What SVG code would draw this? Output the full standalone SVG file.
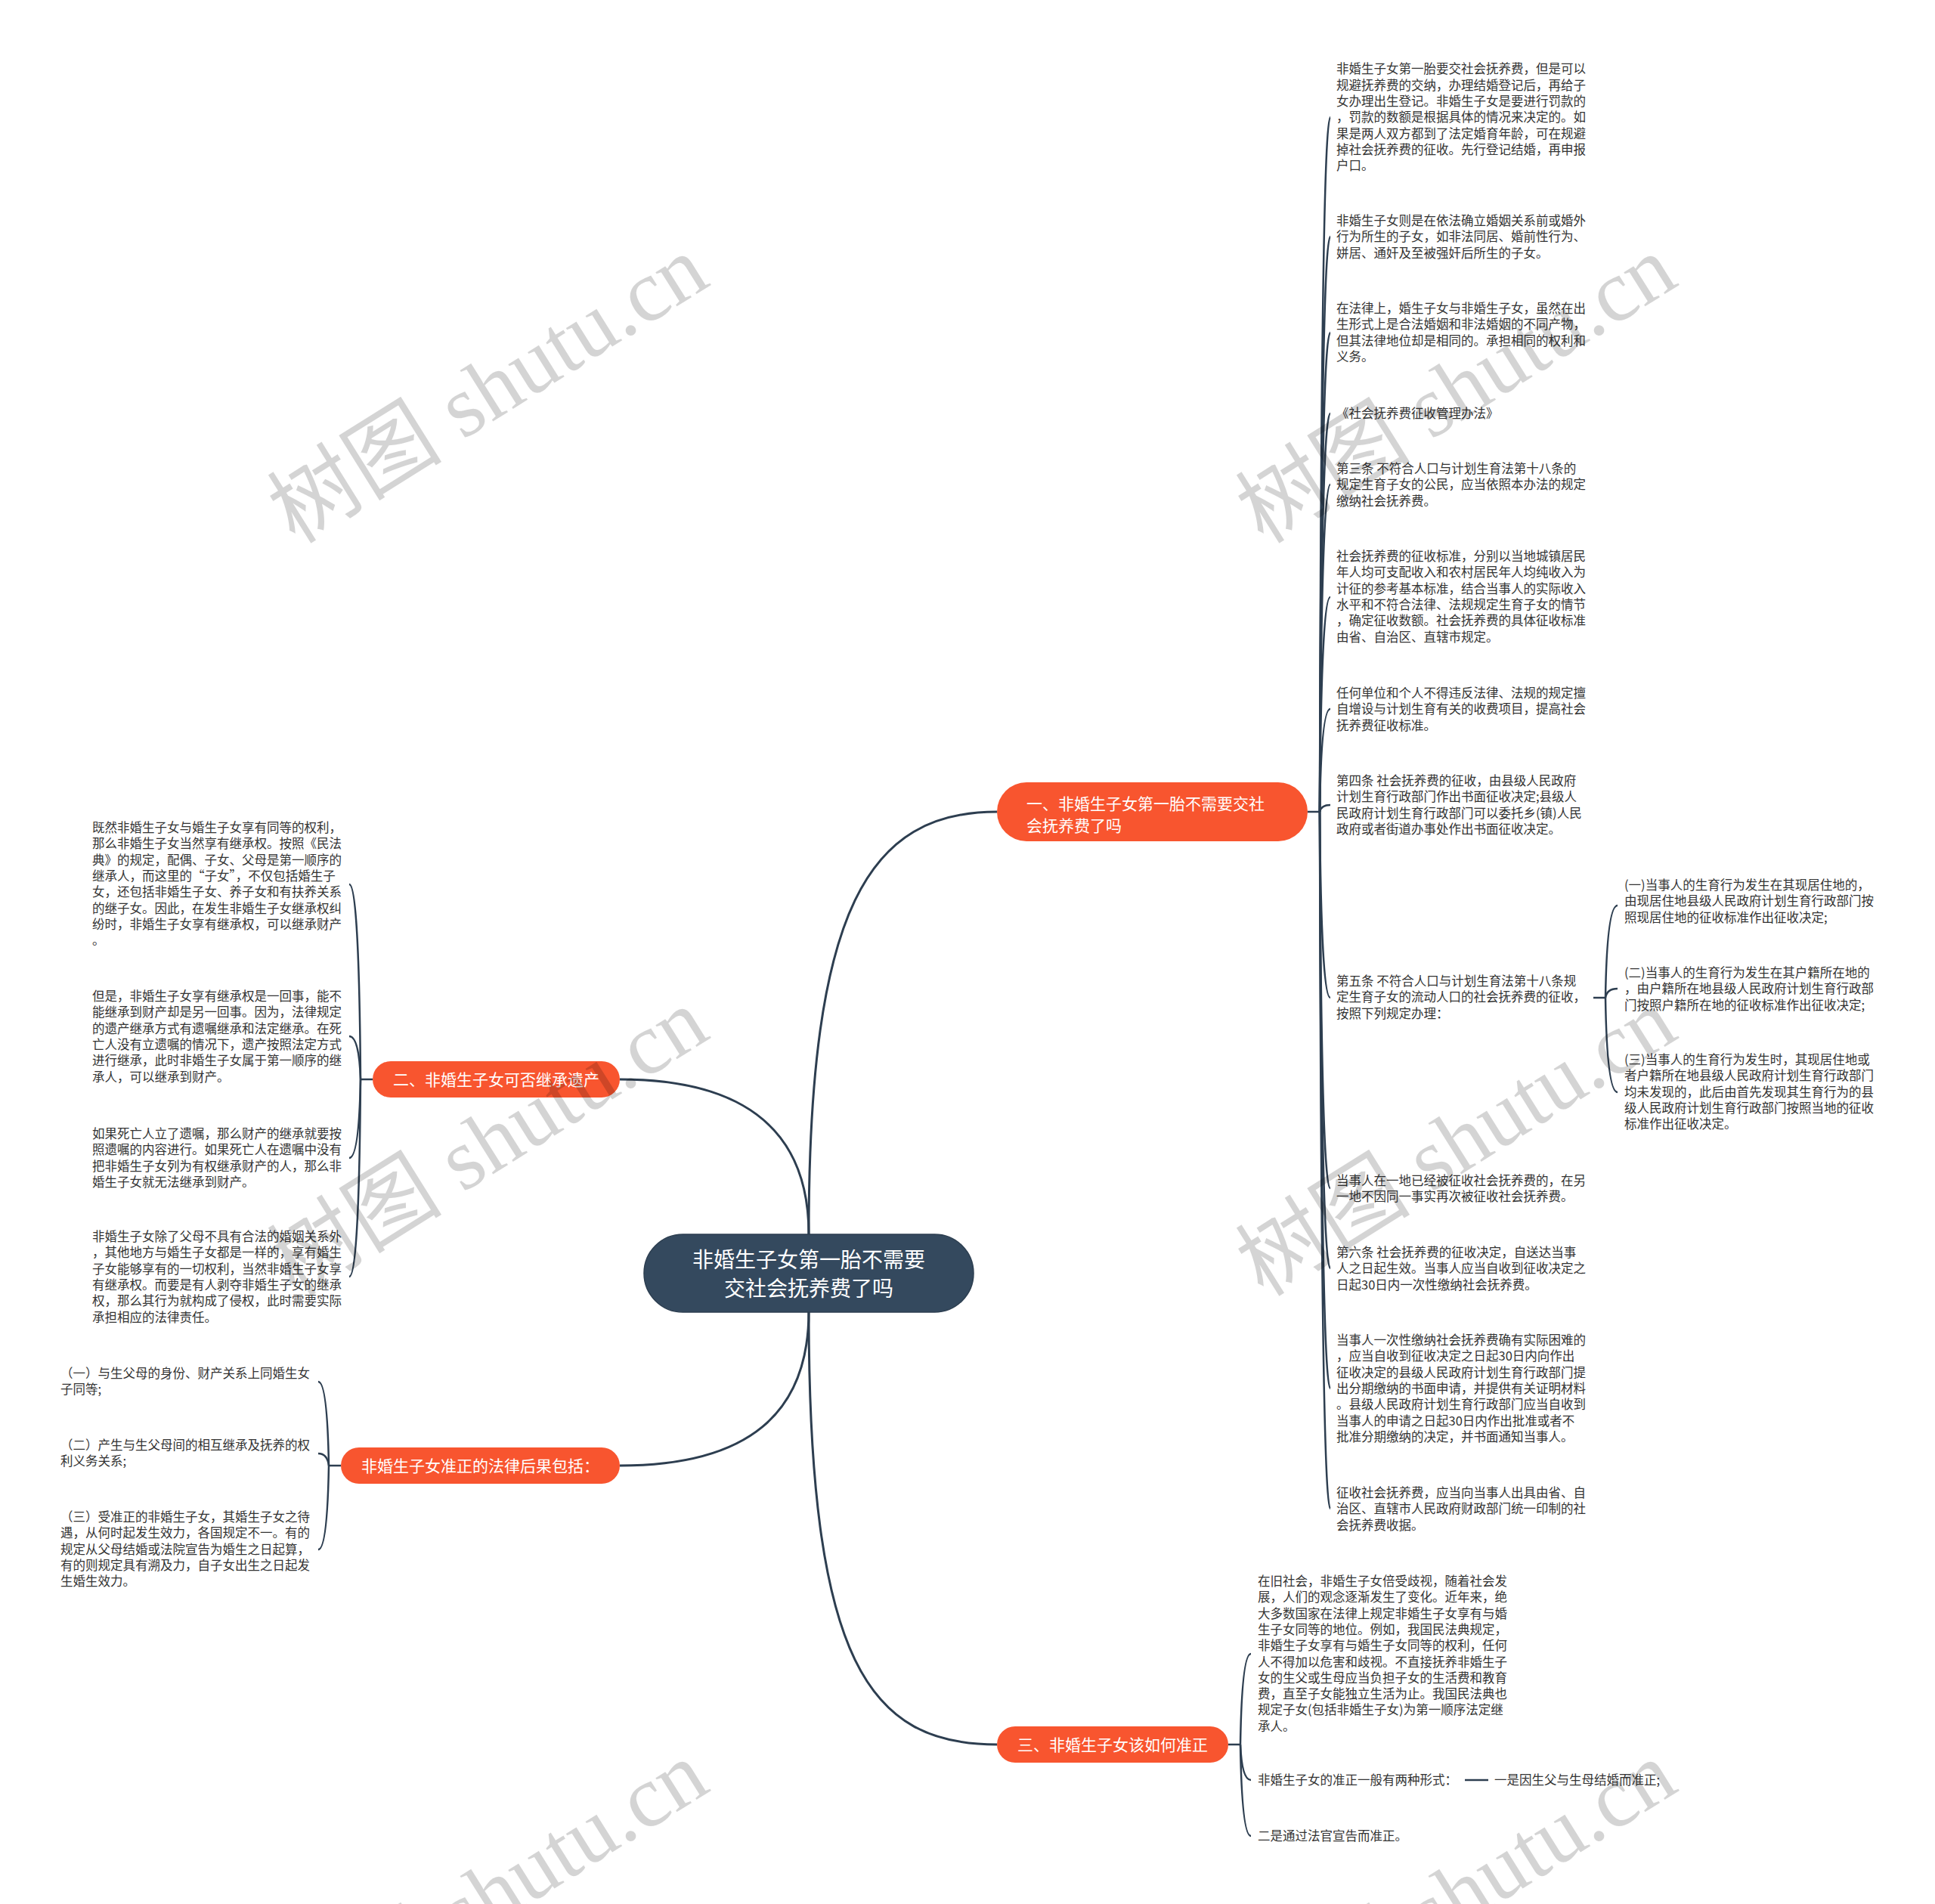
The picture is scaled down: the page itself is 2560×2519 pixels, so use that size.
<svg xmlns="http://www.w3.org/2000/svg" width="2560" height="2519" viewBox="0 0 2560 2519">
<style>
.leaf{font-family:"Noto Sans CJK SC","Noto Sans",sans-serif;font-size:16.5px;fill:#333333;}
.br{font-family:"Noto Sans CJK SC","Noto Sans",sans-serif;font-size:21px;fill:#ffffff;}
.ctr{font-family:"Noto Sans CJK SC","Noto Sans",sans-serif;font-size:28px;fill:#ffffff;}
.main{fill:none;stroke:#2d3e50;stroke-width:3;}
.sub{fill:none;stroke:#2d3e50;stroke-width:2.5;}
.brnode{fill:#f8552f;}
.wm{font-family:"Liberation Serif","Noto Sans CJK SC",serif;font-size:116px;fill:#000000;fill-opacity:0.17;}
</style>
<rect x="0" y="0" width="2560" height="2519" fill="#ffffff"/>
<g id="connectors">
<path class="main" d="M1070,1633 C1070,1200 1150,1074 1319,1074"/>
<path class="main" d="M820,1428 C990,1428 1070,1500 1070,1633"/>
<path class="main" d="M820,1939 C990,1939 1070,1870 1070,1735"/>
<path class="main" d="M1070,1735 C1070,2200 1150,2308 1319,2308"/>
<path class="sub" d="M1730,1074 L1746,1074"/>
<path class="sub" d="M1746,1074 Q1748,155 1760,155"/>
<path class="sub" d="M1746,1074 Q1748,313 1760,313"/>
<path class="sub" d="M1746,1074 Q1748,440 1760,440"/>
<path class="sub" d="M1746,1074 Q1748,547 1760,547"/>
<path class="sub" d="M1746,1074 Q1748,641 1760,641"/>
<path class="sub" d="M1746,1074 Q1748,790 1760,790"/>
<path class="sub" d="M1746,1074 Q1748,938 1760,938"/>
<path class="sub" d="M1746,1074 Q1748,1065 1760,1065"/>
<path class="sub" d="M1746,1074 Q1748,1320 1760,1320"/>
<path class="sub" d="M1746,1074 Q1748,1572 1760,1572"/>
<path class="sub" d="M1746,1074 Q1748,1678 1760,1678"/>
<path class="sub" d="M1746,1074 Q1748,1837 1760,1837"/>
<path class="sub" d="M1746,1074 Q1748,1996 1760,1996"/>
<path class="sub" d="M2108,1320 L2124,1320"/>
<path class="sub" d="M2124,1320 Q2126,1198 2140,1198"/>
<path class="sub" d="M2124,1320 Q2126,1308 2140,1308"/>
<path class="sub" d="M2124,1320 Q2126,1445 2140,1445"/>
<path class="sub" d="M493,1428 L477,1428"/>
<path class="sub" d="M477,1428 Q475,1170 462,1170"/>
<path class="sub" d="M477,1428 Q475,1371 462,1371"/>
<path class="sub" d="M477,1428 Q475,1532 462,1532"/>
<path class="sub" d="M477,1428 Q475,1689 462,1689"/>
<path class="sub" d="M451,1939 L435,1939"/>
<path class="sub" d="M435,1939 Q433,1828 421,1828"/>
<path class="sub" d="M435,1939 Q433,1923 421,1923"/>
<path class="sub" d="M435,1939 Q433,2050 421,2050"/>
<path class="sub" d="M1625,2308 L1641,2308"/>
<path class="sub" d="M1641,2308 Q1643,2188 1655,2188"/>
<path class="sub" d="M1641,2308 Q1643,2355 1655,2355"/>
<path class="sub" d="M1641,2308 Q1643,2429 1655,2429"/>
<path class="sub" d="M1938,2355 L1969,2355"/>
</g>
<g id="center">
<rect x="852" y="1633" width="436" height="103" rx="51.5" fill="#34495e" stroke="#2c3e50" stroke-width="1.5"/>
<text class="ctr" text-anchor="middle"><tspan x="1070" y="1677">非婚生子女第一胎不需要</tspan><tspan x="1070" y="1715">交社会抚养费了吗</tspan></text>
</g>
<g id="branch1">
<rect class="brnode" x="1319" y="1035" width="411" height="78" rx="39"/>
<text class="br"><tspan x="1358" y="1070.5">一、非婚生子女第一胎不需要交社</tspan><tspan x="1358" y="1099.5">会抚养费了吗</tspan></text>
</g>
<g id="branch2">
<rect class="brnode" x="493" y="1404" width="327" height="48" rx="24"/>
<text class="br" x="656.5" y="1435.5" text-anchor="middle">二、非婚生子女可否继承遗产</text>
</g>
<g id="branch3">
<rect class="brnode" x="451" y="1915" width="369" height="48" rx="24"/>
<text class="br" x="635.5" y="1946.5" text-anchor="middle">非婚生子女准正的法律后果包括：</text>
</g>
<g id="branch4">
<rect class="brnode" x="1319" y="2284" width="306" height="48" rx="24"/>
<text class="br" x="1472" y="2315.5" text-anchor="middle">三、非婚生子女该如何准正</text>
</g>
<g id="leaf1-1"><text class="leaf"><tspan x="1768" y="97.4">非婚生子女第一胎要交社会抚养费，但是可以</tspan><tspan x="1768" y="118.7">规避抚养费的交纳，办理结婚登记后，再给子</tspan><tspan x="1768" y="140">女办理出生登记。非婚生子女是要进行罚款的</tspan><tspan x="1768" y="161.3">，罚款的数额是根据具体的情况来决定的。如</tspan><tspan x="1768" y="182.6">果是两人双方都到了法定婚育年龄，可在规避</tspan><tspan x="1768" y="203.9">掉社会抚养费的征收。先行登记结婚，再申报</tspan><tspan x="1768" y="225.2">户口。</tspan></text></g>
<g id="leaf1-2"><text class="leaf"><tspan x="1768" y="298">非婚生子女则是在依法确立婚姻关系前或婚外</tspan><tspan x="1768" y="319.3">行为所生的子女，如非法同居、婚前性行为、</tspan><tspan x="1768" y="340.6">姘居、通奸及至被强奸后所生的子女。</tspan></text></g>
<g id="leaf1-3"><text class="leaf"><tspan x="1768" y="414">在法律上，婚生子女与非婚生子女，虽然在出</tspan><tspan x="1768" y="435.3">生形式上是合法婚姻和非法婚姻的不同产物，</tspan><tspan x="1768" y="456.6">但其法律地位却是相同的。承担相同的权利和</tspan><tspan x="1768" y="477.9">义务。</tspan></text></g>
<g id="leaf1-4"><text class="leaf" x="1768" y="553">《社会抚养费征收管理办法》</text></g>
<g id="leaf1-5"><text class="leaf"><tspan x="1768" y="626">第三条 不符合人口与计划生育法第十八条的</tspan><tspan x="1768" y="647.3">规定生育子女的公民，应当依照本办法的规定</tspan><tspan x="1768" y="668.6">缴纳社会抚养费。</tspan></text></g>
<g id="leaf1-6"><text class="leaf"><tspan x="1768" y="742">社会抚养费的征收标准，分别以当地城镇居民</tspan><tspan x="1768" y="763.3">年人均可支配收入和农村居民年人均纯收入为</tspan><tspan x="1768" y="784.6">计征的参考基本标准，结合当事人的实际收入</tspan><tspan x="1768" y="805.9">水平和不符合法律、法规规定生育子女的情节</tspan><tspan x="1768" y="827.2">，确定征收数额。社会抚养费的具体征收标准</tspan><tspan x="1768" y="848.5">由省、自治区、直辖市规定。</tspan></text></g>
<g id="leaf1-7"><text class="leaf"><tspan x="1768" y="923">任何单位和个人不得违反法律、法规的规定擅</tspan><tspan x="1768" y="944.3">自增设与计划生育有关的收费项目，提高社会</tspan><tspan x="1768" y="965.6">抚养费征收标准。</tspan></text></g>
<g id="leaf1-8"><text class="leaf"><tspan x="1768" y="1039">第四条 社会抚养费的征收，由县级人民政府</tspan><tspan x="1768" y="1060.3">计划生育行政部门作出书面征收决定;县级人</tspan><tspan x="1768" y="1081.6">民政府计划生育行政部门可以委托乡(镇)人民</tspan><tspan x="1768" y="1102.9">政府或者街道办事处作出书面征收决定。</tspan></text></g>
<g id="leaf1-9"><text class="leaf"><tspan x="1768" y="1304">第五条 不符合人口与计划生育法第十八条规</tspan><tspan x="1768" y="1325.3">定生育子女的流动人口的社会抚养费的征收，</tspan><tspan x="1768" y="1346.6">按照下列规定办理：</tspan></text></g>
<g id="leaf1-9-1"><text class="leaf"><tspan x="2149" y="1177">(一)当事人的生育行为发生在其现居住地的，</tspan><tspan x="2149" y="1198.3">由现居住地县级人民政府计划生育行政部门按</tspan><tspan x="2149" y="1219.6">照现居住地的征收标准作出征收决定;</tspan></text></g>
<g id="leaf1-9-2"><text class="leaf"><tspan x="2149" y="1293">(二)当事人的生育行为发生在其户籍所在地的</tspan><tspan x="2149" y="1314.3">，由户籍所在地县级人民政府计划生育行政部</tspan><tspan x="2149" y="1335.6">门按照户籍所在地的征收标准作出征收决定;</tspan></text></g>
<g id="leaf1-9-3"><text class="leaf"><tspan x="2149" y="1408">(三)当事人的生育行为发生时，其现居住地或</tspan><tspan x="2149" y="1429.3">者户籍所在地县级人民政府计划生育行政部门</tspan><tspan x="2149" y="1450.6">均未发现的，此后由首先发现其生育行为的县</tspan><tspan x="2149" y="1471.9">级人民政府计划生育行政部门按照当地的征收</tspan><tspan x="2149" y="1493.2">标准作出征收决定。</tspan></text></g>
<g id="leaf1-10"><text class="leaf"><tspan x="1768" y="1568">当事人在一地已经被征收社会抚养费的，在另</tspan><tspan x="1768" y="1589.3">一地不因同一事实再次被征收社会抚养费。</tspan></text></g>
<g id="leaf1-11"><text class="leaf"><tspan x="1768" y="1663">第六条 社会抚养费的征收决定，自送达当事</tspan><tspan x="1768" y="1684.3">人之日起生效。当事人应当自收到征收决定之</tspan><tspan x="1768" y="1705.6">日起30日内一次性缴纳社会抚养费。</tspan></text></g>
<g id="leaf1-12"><text class="leaf"><tspan x="1768" y="1779">当事人一次性缴纳社会抚养费确有实际困难的</tspan><tspan x="1768" y="1800.3">，应当自收到征收决定之日起30日内向作出</tspan><tspan x="1768" y="1821.6">征收决定的县级人民政府计划生育行政部门提</tspan><tspan x="1768" y="1842.9">出分期缴纳的书面申请，并提供有关证明材料</tspan><tspan x="1768" y="1864.2">。县级人民政府计划生育行政部门应当自收到</tspan><tspan x="1768" y="1885.5">当事人的申请之日起30日内作出批准或者不</tspan><tspan x="1768" y="1906.8">批准分期缴纳的决定，并书面通知当事人。</tspan></text></g>
<g id="leaf1-13"><text class="leaf"><tspan x="1768" y="1981">征收社会抚养费，应当向当事人出具由省、自</tspan><tspan x="1768" y="2002.3">治区、直辖市人民政府财政部门统一印制的社</tspan><tspan x="1768" y="2023.6">会抚养费收据。</tspan></text></g>
<g id="leaf2-1"><text class="leaf"><tspan x="122" y="1101">既然非婚生子女与婚生子女享有同等的权利，</tspan><tspan x="122" y="1122.3">那么非婚生子女当然享有继承权。按照《民法</tspan><tspan x="122" y="1143.6">典》的规定，配偶、子女、父母是第一顺序的</tspan><tspan x="122" y="1164.9">继承人，而这里的“子女”，不仅包括婚生子</tspan><tspan x="122" y="1186.2">女，还包括非婚生子女、养子女和有扶养关系</tspan><tspan x="122" y="1207.5">的继子女。因此，在发生非婚生子女继承权纠</tspan><tspan x="122" y="1228.8">纷时，非婚生子女享有继承权，可以继承财产</tspan><tspan x="122" y="1250.1">。</tspan></text></g>
<g id="leaf2-2"><text class="leaf"><tspan x="122" y="1324">但是，非婚生子女享有继承权是一回事，能不</tspan><tspan x="122" y="1345.3">能继承到财产却是另一回事。因为，法律规定</tspan><tspan x="122" y="1366.6">的遗产继承方式有遗嘱继承和法定继承。在死</tspan><tspan x="122" y="1387.9">亡人没有立遗嘱的情况下，遗产按照法定方式</tspan><tspan x="122" y="1409.2">进行继承，此时非婚生子女属于第一顺序的继</tspan><tspan x="122" y="1430.5">承人，可以继承到财产。</tspan></text></g>
<g id="leaf2-3"><text class="leaf"><tspan x="122" y="1506">如果死亡人立了遗嘱，那么财产的继承就要按</tspan><tspan x="122" y="1527.3">照遗嘱的内容进行。如果死亡人在遗嘱中没有</tspan><tspan x="122" y="1548.6">把非婚生子女列为有权继承财产的人，那么非</tspan><tspan x="122" y="1569.9">婚生子女就无法继承到财产。</tspan></text></g>
<g id="leaf2-4"><text class="leaf"><tspan x="122" y="1642">非婚生子女除了父母不具有合法的婚姻关系外</tspan><tspan x="122" y="1663.3">，其他地方与婚生子女都是一样的，享有婚生</tspan><tspan x="122" y="1684.6">子女能够享有的一切权利，当然非婚生子女享</tspan><tspan x="122" y="1705.9">有继承权。而要是有人剥夺非婚生子女的继承</tspan><tspan x="122" y="1727.2">权，那么其行为就构成了侵权，此时需要实际</tspan><tspan x="122" y="1748.5">承担相应的法律责任。</tspan></text></g>
<g id="leaf3-1"><text class="leaf"><tspan x="80" y="1823">（一）与生父母的身份、财产关系上同婚生女</tspan><tspan x="80" y="1844.3">子同等;</tspan></text></g>
<g id="leaf3-2"><text class="leaf"><tspan x="80" y="1918">（二）产生与生父母间的相互继承及抚养的权</tspan><tspan x="80" y="1939.3">利义务关系;</tspan></text></g>
<g id="leaf3-3"><text class="leaf"><tspan x="80" y="2013">（三）受准正的非婚生子女，其婚生子女之待</tspan><tspan x="80" y="2034.3">遇，从何时起发生效力，各国规定不一。有的</tspan><tspan x="80" y="2055.6">规定从父母结婚或法院宣告为婚生之日起算，</tspan><tspan x="80" y="2076.9">有的则规定具有溯及力，自子女出生之日起发</tspan><tspan x="80" y="2098.2">生婚生效力。</tspan></text></g>
<g id="leaf4-1"><text class="leaf"><tspan x="1664" y="2098">在旧社会，非婚生子女倍受歧视，随着社会发</tspan><tspan x="1664" y="2119.3">展，人们的观念逐渐发生了变化。近年来，绝</tspan><tspan x="1664" y="2140.6">大多数国家在法律上规定非婚生子女享有与婚</tspan><tspan x="1664" y="2161.9">生子女同等的地位。例如，我国民法典规定，</tspan><tspan x="1664" y="2183.2">非婚生子女享有与婚生子女同等的权利，任何</tspan><tspan x="1664" y="2204.5">人不得加以危害和歧视。不直接抚养非婚生子</tspan><tspan x="1664" y="2225.8">女的生父或生母应当负担子女的生活费和教育</tspan><tspan x="1664" y="2247.1">费，直至子女能独立生活为止。我国民法典也</tspan><tspan x="1664" y="2268.4">规定子女(包括非婚生子女)为第一顺序法定继</tspan><tspan x="1664" y="2289.7">承人。</tspan></text></g>
<g id="leaf4-2"><text class="leaf" x="1664" y="2361">非婚生子女的准正一般有两种形式：</text></g>
<g id="leaf4-2-1"><text class="leaf" x="1977" y="2361">一是因生父与生母结婚而准正;</text></g>
<g id="leaf4-3"><text class="leaf" x="1664" y="2435">二是通过法官宣告而准正。</text></g>
<g id="watermark">
<text class="wm" x="645" y="514" dy="0.35em" text-anchor="middle" transform="rotate(-32 645 514)">树图 shutu.cn</text>
<text class="wm" x="1926" y="514" dy="0.35em" text-anchor="middle" transform="rotate(-32 1926 514)">树图 shutu.cn</text>
<text class="wm" x="645" y="1510" dy="0.35em" text-anchor="middle" transform="rotate(-32 645 1510)">树图 shutu.cn</text>
<text class="wm" x="1926" y="1510" dy="0.35em" text-anchor="middle" transform="rotate(-32 1926 1510)">树图 shutu.cn</text>
<text class="wm" x="645" y="2506" dy="0.35em" text-anchor="middle" transform="rotate(-32 645 2506)">树图 shutu.cn</text>
<text class="wm" x="1926" y="2506" dy="0.35em" text-anchor="middle" transform="rotate(-32 1926 2506)">树图 shutu.cn</text>
</g>
</svg>
